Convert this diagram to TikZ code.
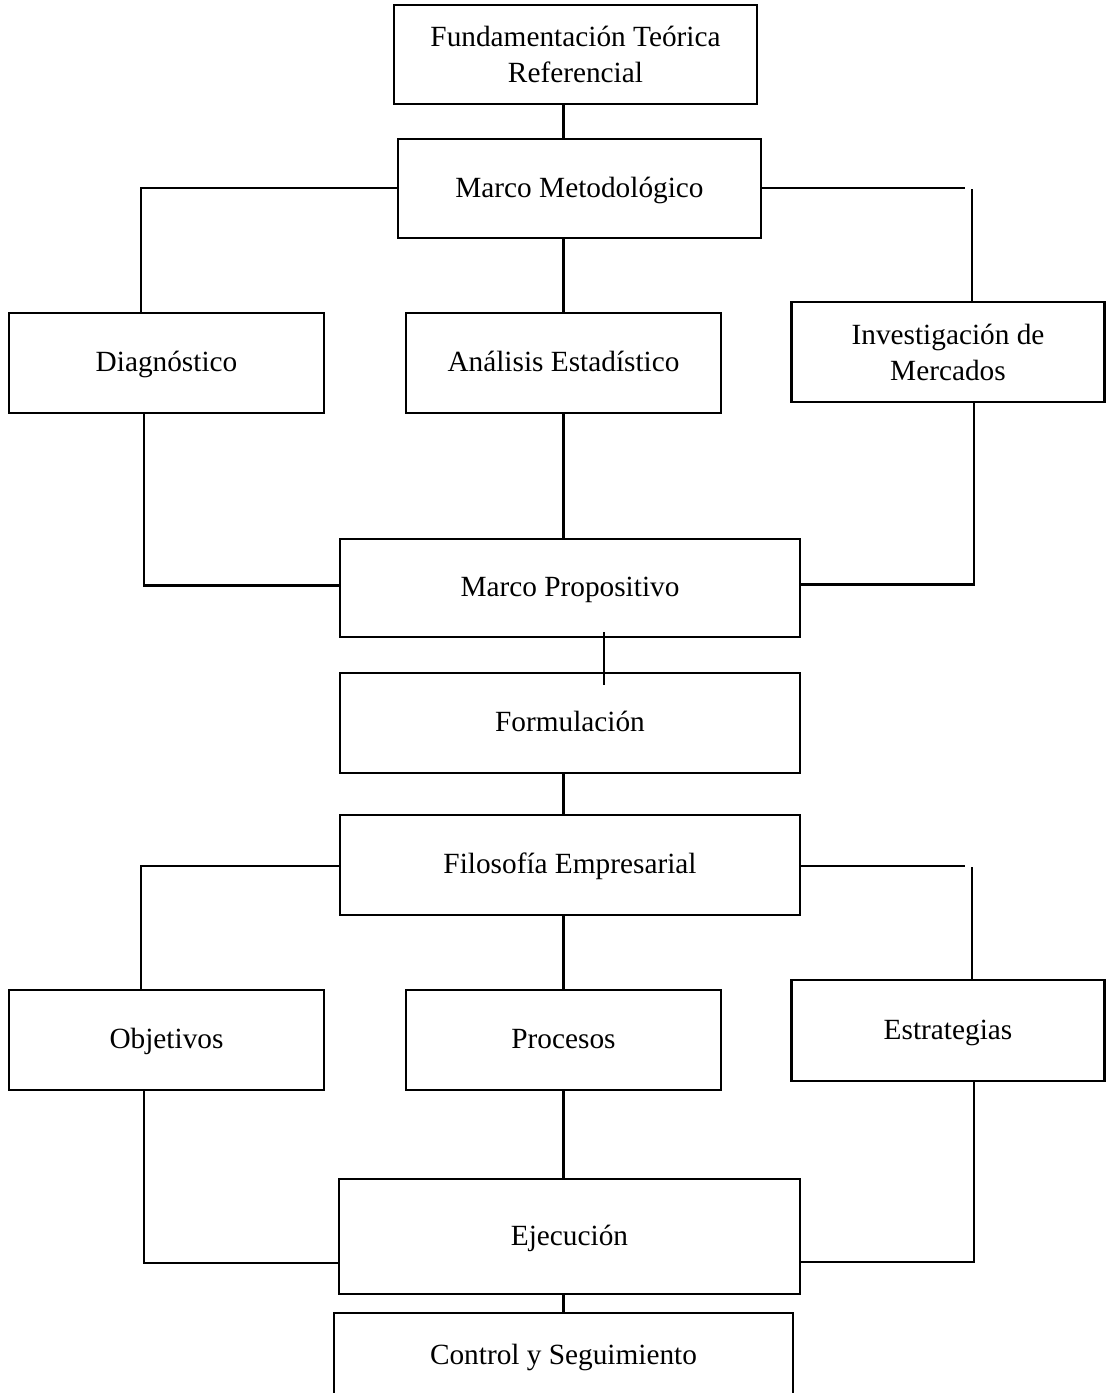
\documentclass[tikz,border=0pt]{standalone}
\usepackage{fontspec}
\setmainfont{Liberation Serif}
\begin{document}
\begin{tikzpicture}[x=1pt,y=-1pt,
  box/.style={draw=black,line width=2.6pt,rectangle,inner sep=0pt,align=center,
    font=\fontsize{29.3}{36}\selectfont},
  oneline/.style={box,text height=24pt,text depth=6.6pt},
  thickline/.style={line width=2.6pt,line cap=rect},
  thinline/.style={line width=1.4pt}]
\useasboundingbox (0,0) rectangle (1106,1393);
\clip (0,0) rectangle (1106,1393);
% nodes
\node[box,minimum width=363pt,minimum height=99pt] (fund) at (575.5,54.5) {Fundamentación Teórica\\Referencial};
\node[oneline,minimum width=363pt,minimum height=99pt] (mm) at (579.5,188.5) {Marco Metodológico};
\node[oneline,minimum width=315pt,minimum height=100pt] (diag) at (166.5,363) {Diagnóstico};
\node[oneline,minimum width=315pt,minimum height=100pt] (anal) at (563.5,363) {Análisis Estadístico};
\node[box,minimum width=313pt,minimum height=100pt] (inv) at (948,352) {Investigación de\\Mercados};
\node[oneline,minimum width=460pt,minimum height=98pt] (mp) at (570,588) {Marco Propositivo};
\node[oneline,minimum width=460pt,minimum height=100pt] (form) at (570,723) {Formulación};
\node[oneline,minimum width=460pt,minimum height=100pt] (filo) at (570,865) {Filosofía Empresarial};
\node[oneline,minimum width=315pt,minimum height=100pt] (obj) at (166.5,1040) {Objetivos};
\node[oneline,minimum width=315pt,minimum height=100pt] (proc) at (563.5,1040) {Procesos};
\node[oneline,minimum width=313pt,minimum height=101pt] (estr) at (948,1030.5) {Estrategias};
\node[oneline,minimum width=461pt,minimum height=115pt] (ejec) at (569.5,1236.5) {Ejecución};
\node[oneline,minimum width=459pt,minimum height=86pt] (ctrl) at (563.5,1356) {Control y Seguimiento};
% coordinates
\coordinate (tl1) at (141,188);
\coordinate (tr1) at (965,188);
\coordinate (tr1v) at (972,189);
\coordinate (tl2) at (141,866);
\coordinate (tr2) at (965,866);
\coordinate (tr2v) at (972,867);
\coordinate (bl1) at (144,585.5);
\coordinate (br1) at (974,584.5);
\coordinate (bl2) at (144,1263);
\coordinate (br2) at (974,1262);
\coordinate (mf1) at (604,632);
\coordinate (mf2) at (604,685);
% central connectors
\draw[thickline] (fund.south -| anal.north) -- (mm.north -| anal.north);
\draw[thickline] (mm.south -| anal.north) -- (anal.north);
\draw[thickline] (anal.south) -- (anal.south |- mp.north);
\draw[thickline,line cap=butt] (mf1) -- (mf2);
\draw[thickline] (form.south -| anal.south) -- (filo.north -| anal.south);
\draw[thickline] (filo.south -| proc.north) -- (proc.north);
\draw[thickline] (proc.south) -- (proc.south |- ejec.north);
\draw[thickline] (ejec.south -| ctrl.north) -- (ctrl.north);
% thin branches
\draw[thinline] (mm.west |- tl1) -- (tl1) -- (tl1 |- diag.north);
\draw[thinline] (mm.east |- tr1) -- (tr1);
\draw[thinline] (tr1v) -- (tr1v |- inv.north);
\draw[thinline] (filo.west |- tl2) -- (tl2) -- (tl2 |- obj.north);
\draw[thinline] (filo.east |- tr2) -- (tr2);
\draw[thinline] (tr2v) -- (tr2v |- estr.north);
% lower branches
\draw[thickline] (bl1 |- diag.south) -- (bl1) -- (bl1 -| mp.west);
\draw[thickline] (br1 |- inv.south) -- (br1) -- (br1 -| mp.east);
\draw[thickline] (bl2 |- obj.south) -- (bl2) -- (bl2 -| ejec.west);
\draw[thickline] (br2 |- estr.south) -- (br2) -- (br2 -| ejec.east);
\end{tikzpicture}
\end{document}
